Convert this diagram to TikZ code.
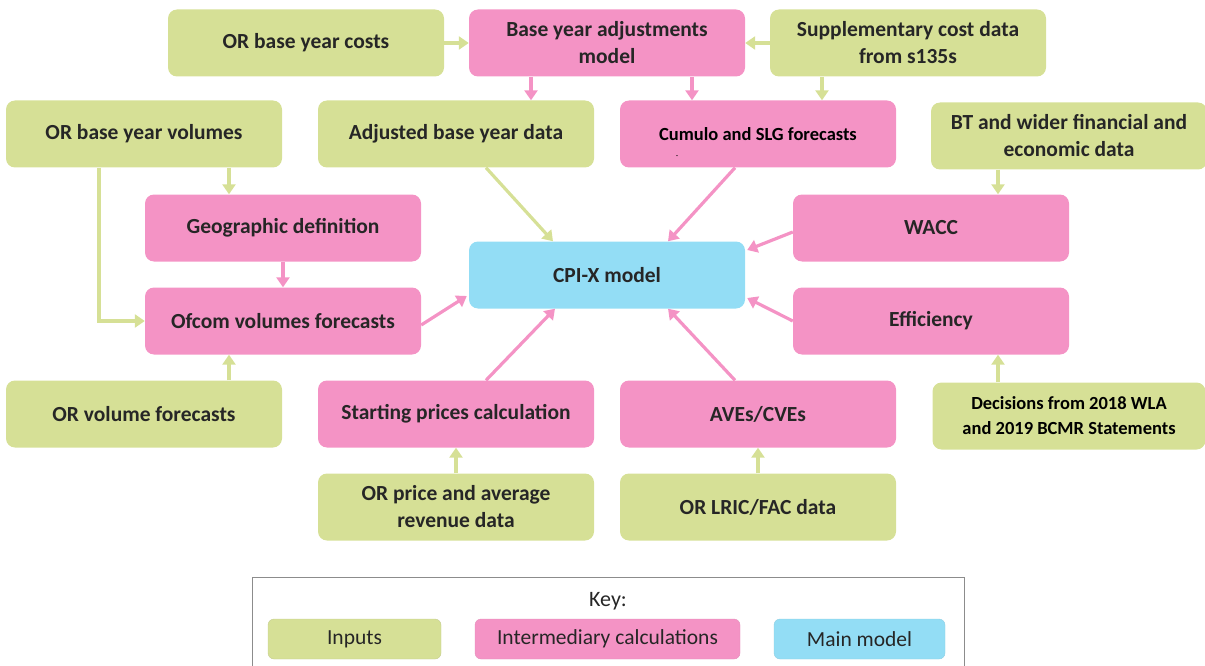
\documentclass[tikz,border=0pt]{standalone}
\usepackage{fontspec}
\setmainfont{Carlito}
\usetikzlibrary{arrows.meta}
\definecolor{ingreen}{HTML}{D6E096}
\definecolor{calcpink}{HTML}{F493C5}
\definecolor{mainblue}{HTML}{93DDF5}
\definecolor{txt}{HTML}{262626}
\definecolor{keygray}{HTML}{8C8C8C}
\tikzset{
  box/.style={rounded corners=9pt, minimum width=276pt, minimum height=67pt,
    inner sep=2pt, align=center, text=txt,
    font=\bfseries\fontsize{21.5}{27}\selectfont},
  inbox/.style={box, fill=ingreen},
  calcbox/.style={box, fill=calcpink},
  mainbox/.style={box, fill=mainblue},
  keybox/.style={rounded corners=6pt, minimum height=40pt, text=txt,
    font=\fontsize{21.5}{25}\selectfont},
  garrow/.style={draw=ingreen, line width=3.2pt,
    -{Triangle[width=13pt,length=10pt]}},
  parrow/.style={draw=calcpink, line width=3.2pt,
    -{Triangle[width=13pt,length=10pt]}},
}
\begin{document}
\begin{tikzpicture}[x=1pt,y=-1pt]
\useasboundingbox (0,0) rectangle (1205,666);

% top row
\node[inbox]   (orcost) at (306,43)  {OR base year costs};
\node[calcbox] (bya)    at (607,43)  {Base year adjustments\\model};
\node[inbox]   (supp)   at (908,43)  {Supplementary cost data\\from s135s};

% second row
\node[inbox]   (orbv)   at (144,134) {OR base year volumes};
\node[inbox]   (adj)    at (456,134) {Adjusted base year data};
\node[calcbox, text=black, font=\bfseries\fontsize{18.5}{22}\selectfont]
               (cumulo) at (758,134) {Cumulo and SLG forecasts};
\node[font=\fontsize{8}{8}\selectfont, text=black] (dash) at (677,157) {-};
\node[inbox]   (bt)     at (1069,136) {BT and wider financial and\\economic data};

% middle
\node[calcbox] (geo)    at (283,228) {Geographic definition};
\node[mainbox] (cpix)   at (607,275) {CPI-X model};
\node[calcbox] (wacc)   at (931,228) {WACC};
\node[calcbox] (ofcom)  at (283,321) {Ofcom volumes forecasts};
\node[calcbox] (eff)    at (931,321) {Efficiency};

% lower rows
\node[inbox]   (orvf)   at (144,414) {OR volume forecasts};
\node[calcbox] (start)  at (456,414) {Starting prices calculation};
\node[calcbox] (aves)   at (758,414) {AVEs/CVEs};
\node[inbox, minimum width=273pt, text=black,
      font=\bfseries\fontsize{18.5}{25}\selectfont]
               (dec)    at (1069,416) {Decisions from 2018 WLA\\and 2019 BCMR Statements};
\node[inbox]   (orprice) at (456,507) {OR price and average\\revenue data};
\node[inbox]   (lric)   at (758,507) {OR LRIC/FAC data};

% connectors into the adjustments model
\draw[garrow] (orcost.east) -- (bya.west);
\draw[garrow] (supp.west) -- (bya.east);
\draw[parrow] ([xshift=-76pt]bya.south) -- ([xshift=-76pt]bya.south |- adj.north);
\draw[parrow] ([xshift=85pt]bya.south) -- ([xshift=85pt]bya.south |- cumulo.north);
\draw[garrow] ([xshift=-86pt]supp.south) -- ([xshift=-86pt]supp.south |- cumulo.north);

% volumes
\draw[garrow] ([xshift=85pt]orbv.south) -- ([xshift=85pt]orbv.south |- geo.north);
\draw[garrow] ([xshift=-45pt]orbv.south) |- (ofcom.west);
\draw[parrow] (geo.south) -- (geo.south |- ofcom.north);
\draw[garrow] ([xshift=85pt]orvf.north) -- ([xshift=85pt]orvf.north |- ofcom.south);

% right-hand inputs
\draw[garrow] ([xshift=-71pt]bt.south) -- ([xshift=-71pt]bt.south |- wacc.north);
\draw[garrow] ([xshift=-71pt]dec.north) -- ([xshift=-71pt]dec.north |- eff.south);

% bottom inputs
\draw[garrow] (orprice.north) -- (orprice.north |- start.south);
\draw[garrow] (lric.north) -- (lric.north |- aves.south);

% everything feeding the CPI-X model
\draw[garrow] ([xshift=30pt]adj.south) -- ([xshift=-54pt]cpix.north);
\draw[parrow] ([xshift=-23pt]cumulo.south) -- ([xshift=61pt]cpix.north);
\draw[parrow] ([yshift=-4pt]wacc.west) -- ([xshift=2pt,yshift=25pt]cpix.east);
\draw[parrow] (eff.west) -- ([xshift=2pt,yshift=-23pt]cpix.east);
\draw[parrow] ([yshift=-4pt]ofcom.east) -- ([xshift=-2pt,yshift=-21pt]cpix.west);
\draw[parrow] ([xshift=30pt]start.north) -- ([xshift=-52pt]cpix.south);
\draw[parrow] ([xshift=-23pt]aves.north) -- ([xshift=61pt]cpix.south);

% key
\draw[keygray, line width=1pt] (252.5,672) -- (252.5,577.5) -- (964.5,577.5) -- (964.5,672);
\node[text=txt, font=\fontsize{22}{26}\selectfont] (keytitle) at (608,601) {Key:};
\node[keybox, fill=ingreen, draw=ingreen!80!gray, minimum width=173pt] (kin) at (354.5,639) {Inputs};
\node[keybox, fill=calcpink, draw=calcpink!85!gray, minimum width=265pt] (kcalc) at (607.5,639) {Intermediary calculations};
\node[keybox, fill=mainblue, draw=mainblue!85!gray, minimum width=171pt] (kmain) at (859.5,639) {Main model};
\end{tikzpicture}
\end{document}
